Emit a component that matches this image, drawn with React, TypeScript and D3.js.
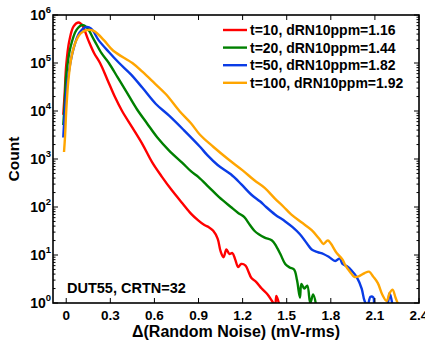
import * as d3 from 'd3'

type Pt = [number, number]

const labels = [
  't=10, dRN10ppm=1.16',
  't=20, dRN10ppm=1.44',
  't=50, dRN10ppm=1.82',
  't=100, dRN10ppm=1.92',
]
const colors = ['#ff0000', '#008000', '#0a3ce6', '#ffa500']

// Δ(random noise) in mV-rms, count
const red: Pt[] = [
  [-0.02, 8.3e3], [-0.01, 2.5e4], [0.0, 9e4], [0.02, 2.8e5], [0.05, 5.8e5], [0.085, 7e5],
  [0.11, 6e5], [0.15, 3e5], [0.19, 1.6e5], [0.23, 1e5], [0.28, 4.5e4], [0.33, 2e4],
  [0.38, 1e4], [0.45, 4.5e3], [0.52, 2e3], [0.585, 850], [0.65, 430], [0.72, 220],
  [0.79, 120], [0.85, 72], [0.9, 52], [0.94, 42], [0.97, 38], [1.0, 32], [1.03, 22],
  [1.05, 12], [1.07, 9], [1.09, 13], [1.11, 10.5], [1.13, 11], [1.15, 8], [1.17, 5.6],
  [1.19, 6.5], [1.22, 6], [1.24, 4.5], [1.26, 3.3], [1.29, 2.8], [1.33, 2], [1.37, 1.5],
  [1.4, 1.1], [1.42, 0.9], [1.43, 1.4], [1.45, 0.9],
]
const green: Pt[] = [
  [-0.02, 5.1e3], [-0.01, 1.5e4], [0.0, 5.5e4], [0.03, 2.2e5], [0.07, 4.9e5], [0.11, 6.2e5],
  [0.14, 5.5e5], [0.19, 3e5], [0.24, 1.6e5], [0.29, 1e5], [0.35, 5e4], [0.41, 2.5e4],
  [0.48, 1.1e4], [0.55, 5.5e3], [0.62, 2.8e3], [0.7, 1.5e3], [0.79, 830], [0.85, 550],
  [0.9, 420], [0.97, 260], [1.04, 160], [1.12, 100], [1.17, 75], [1.21, 62], [1.25, 42],
  [1.28, 32], [1.31, 27], [1.35, 23], [1.4, 20], [1.43, 15], [1.46, 10], [1.49, 6.5],
  [1.52, 5.5], [1.55, 5], [1.57, 3], [1.59, 1.3], [1.6, 2.5], [1.62, 2], [1.64, 2.3],
  [1.66, 1], [1.68, 1.5], [1.7, 0.9],
]
const blue: Pt[] = [
  [-0.02, 2.8e3], [-0.01, 9e3], [0.01, 4.5e4], [0.05, 2e5], [0.09, 4.3e5], [0.135, 5.6e5],
  [0.17, 5.2e5], [0.22, 3e5], [0.29, 1.7e5], [0.36, 1e5], [0.44, 5.8e4], [0.52, 3e4],
  [0.61, 1.4e4], [0.7, 8e3], [0.8, 4e3], [0.91, 1.8e3], [0.96, 1.2e3], [1.03, 750],
  [1.12, 480], [1.19, 300], [1.26, 180], [1.32, 130], [1.36, 100], [1.42, 70], [1.49, 50],
  [1.54, 38], [1.59, 27], [1.64, 17], [1.67, 13], [1.71, 11.5], [1.75, 10.5], [1.79, 9],
  [1.83, 7.5], [1.86, 8.5], [1.88, 6.5], [1.91, 5.8], [1.94, 4.8], [1.98, 3.3], [2.01, 2],
  [2.03, 1.1], [2.05, 0.9], [2.07, 1.35], [2.09, 1.3], [2.1, 0.9], [2.18, 0.9], [2.2, 1.6],
  [2.22, 0.9],
]
const orange: Pt[] = [
  [-0.015, 1.4e3], [-0.008, 3e3], [0.0, 1e4], [0.015, 4.5e4], [0.035, 1.3e5], [0.065, 2.8e5],
  [0.1, 4.2e5], [0.15, 4.9e5], [0.19, 4.6e5], [0.256, 3e5], [0.32, 1.8e5], [0.45, 1e5],
  [0.52, 6.5e4], [0.6, 3.8e4], [0.68, 2.2e4], [0.77, 1e4], [0.85, 5.5e3], [0.91, 3.2e3],
  [1.0, 1.8e3], [1.1, 1e3], [1.2, 580], [1.28, 360], [1.35, 250], [1.42, 150], [1.48, 100],
  [1.53, 70], [1.6, 48], [1.67, 33], [1.72, 22], [1.75, 17], [1.78, 20], [1.84, 11],
  [1.88, 8], [1.9, 6], [1.93, 4.5], [1.96, 3.5], [1.99, 3.6], [2.03, 4.2], [2.06, 4.5],
  [2.09, 3.5], [2.12, 2.6], [2.15, 1.5], [2.18, 1.1], [2.2, 1.6], [2.22, 1.9], [2.24, 1.3],
  [2.26, 0.9],
]
const series = [red, green, blue, orange]

const xTicks = [0, 0.3, 0.6, 0.9, 1.2, 1.5, 1.8, 2.1, 2.4]
const yExps = [0, 1, 2, 3, 4, 5, 6]

const W = 425
const H = 344
const m = { left: 53, right: 419, top: 15, bottom: 303 }
const font = '"Liberation Sans", Arial, sans-serif'

export default function App() {
  const x = d3.scaleLinear().domain([-0.09, 2.4]).range([m.left, m.right])
  const y = d3.scaleLog().domain([1, 1e6]).range([m.bottom, m.top])

  const line = d3.line<Pt>()
    .x(d => x(d[0]))
    .y(d => y(d[1]))
    .curve(d3.curveCatmullRom.alpha(0.5))

  const minor: number[] = []
  for (let e = 0; e < 6; e++) for (let k = 2; k <= 9; k++) minor.push(k * Math.pow(10, e))

  return (
    <svg width={W} height={H} style={{ position: 'absolute', left: 0, top: 0, background: '#fff' }}
      fontFamily={font} fontWeight="bold">
      <defs>
        <clipPath id="plot">
          <rect x={m.left} y={m.top} width={m.right - m.left} height={m.bottom - m.top} />
        </clipPath>
      </defs>

      <g clipPath="url(#plot)">
        {series.map((s, i) => (
          <path key={i} d={line(s) ?? ''} fill="none" stroke={colors[i]} strokeWidth={2.4}
            strokeLinejoin="round" />
        ))}
      </g>

      {/* ticks */}
      <g stroke="#000" strokeWidth={1}>
        {xTicks.map(t => (
          <g key={t}>
            <line x1={x(t)} x2={x(t)} y1={m.bottom} y2={m.bottom - 5} />
            <line x1={x(t)} x2={x(t)} y1={m.top} y2={m.top + 5} />
          </g>
        ))}
        {yExps.map(e => (
          <g key={e}>
            <line x1={m.left} x2={m.left + 5} y1={y(Math.pow(10, e))} y2={y(Math.pow(10, e))} />
            <line x1={m.right} x2={m.right - 5} y1={y(Math.pow(10, e))} y2={y(Math.pow(10, e))} />
          </g>
        ))}
        {minor.map(v => (
          <g key={v}>
            <line x1={m.left} x2={m.left + 2.5} y1={y(v)} y2={y(v)} />
            <line x1={m.right} x2={m.right - 2.5} y1={y(v)} y2={y(v)} />
          </g>
        ))}
      </g>

      <rect x={m.left} y={m.top} width={m.right - m.left} height={m.bottom - m.top}
        fill="none" stroke="#000" strokeWidth={1.6} />

      {/* tick labels */}
      {xTicks.map(t => (
        <text key={t} x={x(t)} y={320} textAnchor="middle" fontSize={13.5}>{t}</text>
      ))}
      {yExps.map(e => (
        <text key={e} x={51} y={y(Math.pow(10, e)) + 5} textAnchor="end" fontSize={14}>
          10<tspan dy={-7} fontSize={9.5}>{e}</tspan>
        </text>
      ))}

      {/* titles */}
      <text x={(m.left + m.right) / 2} y={337} textAnchor="middle" fontSize={16}>
        Δ(Random Noise) (mV-rms)
      </text>
      <text transform={`translate(19,${(m.top + m.bottom) / 2}) rotate(-90)`} textAnchor="middle"
        fontSize={15.5}>Count</text>

      <text x={67} y={293} fontSize={14.5}>DUT55, CRTN=32</text>

      {/* legend */}
      {labels.map((l, i) => (
        <g key={l} transform={`translate(0,${30 + i * 17.6})`}>
          <line x1={223} x2={247} y1={0} y2={0} stroke={colors[i]} strokeWidth={2.4} />
          <text x={250} y={5} fontSize={14}>{l}</text>
        </g>
      ))}
    </svg>
  )
}
